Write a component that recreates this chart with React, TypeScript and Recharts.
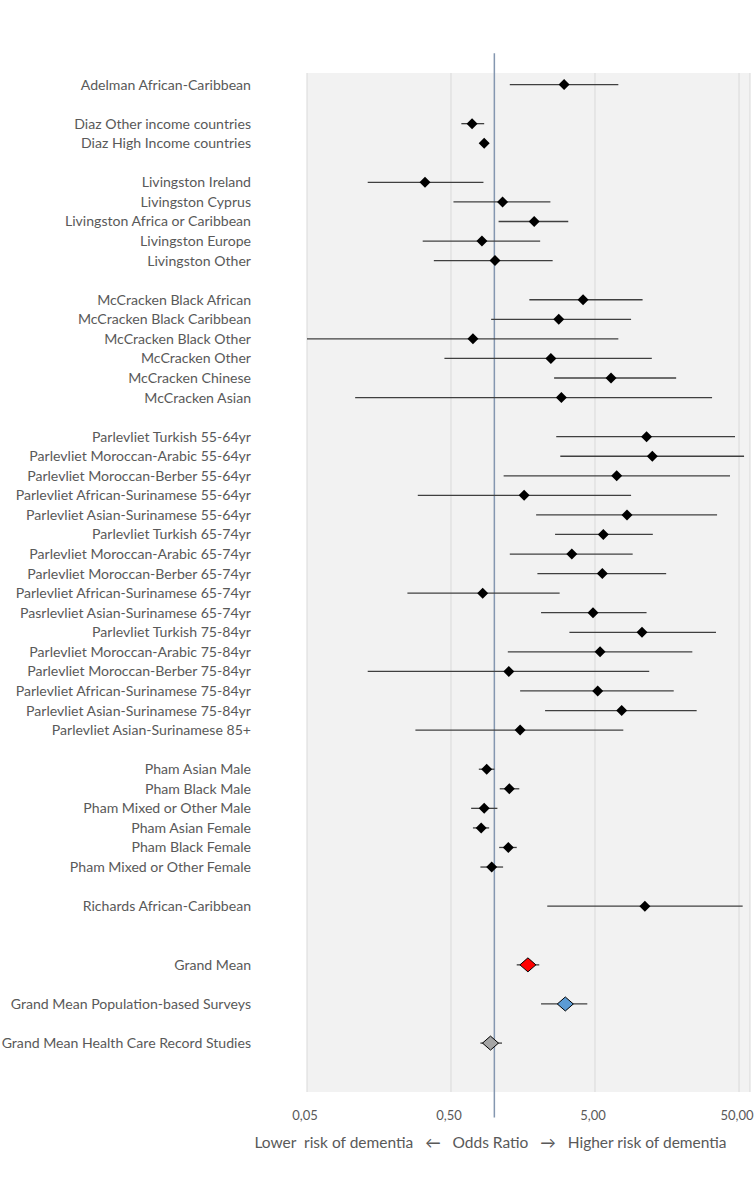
import React from 'react';
import {
	ComposedChart,
	Scatter,
	XAxis,
	YAxis,
	CartesianGrid,
	ErrorBar,
	ReferenceLine,
} from 'recharts';

//================================================================================
// Study data (odds ratio with 95% CI), one row per label
//================================================================================
const studyLabels = [
	'Adelman African-Caribbean',
	'Diaz Other income countries',
	'Diaz High Income countries',
	'Livingston Ireland',
	'Livingston Cyprus',
	'Livingston Africa or Caribbean',
	'Livingston Europe',
	'Livingston Other',
	'McCracken Black African',
	'McCracken Black Caribbean',
	'McCracken Black Other',
	'McCracken Other',
	'McCracken Chinese',
	'McCracken Asian',
	'Parlevliet Turkish 55-64yr',
	'Parlevliet Moroccan-Arabic 55-64yr',
	'Parlevliet Moroccan-Berber 55-64yr',
	'Parlevliet African-Surinamese 55-64yr',
	'Parlevliet Asian-Surinamese 55-64yr',
	'Parlevliet Turkish 65-74yr',
	'Parlevliet Moroccan-Arabic 65-74yr',
	'Parlevliet Moroccan-Berber 65-74yr',
	'Parlevliet African-Surinamese 65-74yr',
	'Pasrlevliet Asian-Surinamese 65-74yr',
	'Parlevliet Turkish 75-84yr',
	'Parlevliet Moroccan-Arabic 75-84yr',
	'Parlevliet Moroccan-Berber 75-84yr',
	'Parlevliet African-Surinamese 75-84yr',
	'Parlevliet Asian-Surinamese 75-84yr',
	'Parlevliet Asian-Surinamese 85+',
	'Pham Asian Male',
	'Pham Black Male',
	'Pham Mixed or Other Male',
	'Pham Asian Female',
	'Pham Black Female',
	'Pham Mixed or Other Female',
	'Richards African-Caribbean',
];
const studyRows = [
	0, 2, 3, 5, 6, 7, 8, 9, 11, 12, 13, 14, 15, 16, 18, 19, 20, 21, 22, 23, 24,
	25, 26, 27, 28, 29, 30, 31, 32, 33, 35, 36, 37, 38, 39, 40, 42,
];
const studyOR = [
	3.05, 0.7, 0.85, 0.33, 1.14, 1.89, 0.82, 1.01, 4.13, 2.8, 0.71, 2.47, 6.46,
	2.92, 11.4, 12.5, 7.07, 1.61, 8.34, 5.71, 3.45, 5.62, 0.83, 4.84, 10.6, 5.42,
	1.26, 5.22, 7.66, 1.51, 0.885, 1.27, 0.85, 0.81, 1.25, 0.958, 11.1,
];
const studyLower = [
	1.28, 0.59, 0.8, 0.132, 0.52, 1.07, 0.318, 0.38, 1.75, 0.95, 0.05, 0.45, 2.6,
	0.108, 2.69, 2.87, 1.16, 0.294, 1.95, 2.64, 1.28, 1.99, 0.249, 2.11, 3.32,
	1.24, 0.132, 1.51, 2.25, 0.283, 0.78, 1.09, 0.69, 0.71, 1.08, 0.8, 2.33,
];
const studyUpper = [
	7.26, 0.85, 0.91, 0.84, 2.45, 3.26, 2.08, 2.54, 10.7, 8.9, 7.26, 12.4, 18.3,
	32.5, 46.9, 54.2, 43.3, 8.9, 35.2, 12.6, 9.13, 15.6, 2.84, 11.4, 34.6, 23.7,
	11.9, 17.6, 25.4, 7.86, 1.0, 1.49, 1.05, 0.92, 1.43, 1.15, 53.0,
];

//================================================================================
// Grand means
//================================================================================
const meanLabels = [
	'Grand Mean',
	'Grand Mean Population-based Surveys',
	'Grand Mean Health Care Record Studies',
];
const meanRows = [45, 47, 49];
const meanOR = [1.71, 3.11, 0.94];
const meanLower = [1.43, 2.11, 0.8];
const meanUpper = [2.05, 4.42, 1.13];
const meanColors = ['#FF0000', '#5B9BD5', '#A5A5A5'];

const xTicks = [0.05, 0.5, 5, 50];

const studyData = studyLabels.map((name, i) => ({
	name,
	row: studyRows[i],
	or: studyOR[i],
	err: [studyOR[i] - studyLower[i], studyUpper[i] - studyOR[i]],
}));
const meanData = meanLabels.map((name, i) => ({
	name,
	row: meanRows[i],
	or: meanOR[i],
	err: [meanOR[i] - meanLower[i], meanUpper[i] - meanOR[i]],
}));

const labelByRow = {};
studyData.forEach((d) => (labelByRow[d.row] = d.name));
meanData.forEach((d) => (labelByRow[d.row] = d.name));
const yTicks = [...studyRows, ...meanRows];

const textColor = '#595959';
const font = 'Lato, "Noto Sans", sans-serif';

const diamond = (rx, ry, fill, stroke) => (props) => {
	const { cx, cy } = props;
	if (cx == null || cy == null) return null;
	return (
		<polygon
			points={`${cx},${cy - ry} ${cx + rx},${cy} ${cx},${cy + ry} ${cx - rx},${cy}`}
			fill={fill}
			stroke={stroke}
			strokeWidth={stroke ? 1 : 0}
		/>
	);
};

const sp = '\u00a0\u00a0\u00a0';
const AxisTitle = (props) => {
	const { viewBox } = props;
	if (!viewBox) return null;
	return (
		<text
			x={viewBox.x + viewBox.width / 2 - 38}
			y={viewBox.y + 56}
			textAnchor="middle"
			fill={textColor}
			fontSize={15.5}
			fontFamily={font}
		>
			{`Lower\u00a0\u00a0risk of dementia${sp}\u2190${sp}Odds Ratio${sp}\u2192${sp}Higher risk of dementia`}
		</text>
	);
};

export default function App() {
	return (
		<div style={{ position: 'absolute', left: 0, top: 0, fontFamily: font }}>
			<ComposedChart
				width={755}
				height={1204}
				margin={{ top: 73, right: 5, bottom: 82, left: 0 }}
			>
				<CartesianGrid
					horizontal={false}
					fill="#F2F2F2"
					stroke="#D9D9D9"
					strokeWidth={1}
				/>
				<XAxis
					type="number"
					dataKey="or"
					scale="log"
					domain={[0.05, 59.6]}
					allowDataOverflow
					ticks={xTicks}
					tickFormatter={(v) => v.toFixed(2).replace('.', ',')}
					axisLine={false}
					tickLine={false}
					tickSize={0}
					tickMargin={19}
					height={30}
					tick={{ fill: textColor, fontSize: 13, fontFamily: font, dx: -2 }}
					label={<AxisTitle />}
				/>
				<YAxis
					type="number"
					dataKey="row"
					domain={[-0.59, 51.5]}
					reversed
					allowDataOverflow
					ticks={yTicks}
					interval={0}
					tickFormatter={(v) => labelByRow[v] || ''}
					axisLine={false}
					tickLine={false}
					tickSize={0}
					tickMargin={56}
					width={307}
					tick={{ fill: textColor, fontSize: 14.1, fontFamily: font }}
				/>
				<ReferenceLine
					segment={[
						{ x: 1, y: -1.6 },
						{ x: 1, y: 52.8 },
					]}
					stroke="#8497B0"
					strokeWidth={1.5}
					ifOverflow="visible"
				/>
				<Scatter
					data={studyData}
					dataKey="or"
					shape={diamond(5.5, 5.5, '#000000')}
					isAnimationActive={false}
				>
					<ErrorBar
						dataKey="err"
						direction="x"
						width={0}
						stroke="#404040"
						strokeWidth={1.3}
					/>
				</Scatter>
				{meanData.map((d, i) => (
					<Scatter
						key={d.name}
						data={[d]}
						dataKey="or"
						shape={diamond(8, 7, meanColors[i], '#000000')}
						isAnimationActive={false}
					>
						<ErrorBar
							dataKey="err"
							direction="x"
							width={0}
							stroke="#404040"
							strokeWidth={1.3}
						/>
					</Scatter>
				))}
			</ComposedChart>
		</div>
	);
}
